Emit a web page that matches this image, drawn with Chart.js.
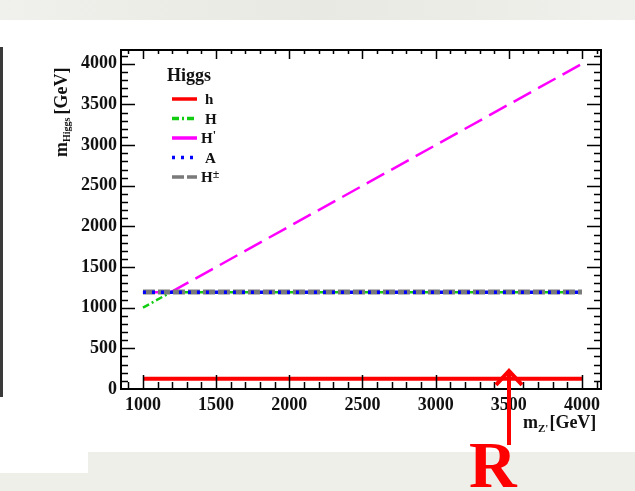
<!DOCTYPE html>
<html>
<head>
<meta charset="utf-8">
<script src="https://cdn.jsdelivr.net/npm/chart.js@4.4.1/dist/chart.umd.min.js"></script>
<style>
  html, body { margin: 0; padding: 0; background: #fff; }
  #wrap { position: relative; width: 635px; height: 491px; overflow: hidden; background: #fff; }
  .band { position: absolute; background: #efefea; }
  canvas { position: absolute; left: 0; top: 0; }
</style>
</head>
<body>
<div id="wrap">
  <div class="band" style="left:0;top:0;width:635px;height:20px;background:linear-gradient(90deg,#f0f0ec,#e9e9e3 50%,#f0f0ec)"></div>
  <div class="band" style="left:88px;top:452px;width:547px;height:39px"></div>
  <div class="band" style="left:0;top:473px;width:88px;height:18px"></div>
  <div style="position:absolute;left:0;top:47px;width:3px;height:350px;background:#3a3a3a"></div>
  <canvas id="chart" width="635" height="491"></canvas>
</div>
<script>
// m_Z' values where the Higgs masses are plotted
const mZprime = [1000, 1190, 1500, 2000, 2500, 3000, 3500, 4000];

// Higgs masses [GeV]
const mh      = [125, 125, 125, 125, 125, 125, 125, 125];
const mH      = [1000, 1190, 1190, 1190, 1190, 1190, 1190, 1190];
const mHprime = [1190, 1190, 1500, 2000, 2500, 3000, 3500, 4000];
const mA      = [1190, 1190, 1190, 1190, 1190, 1190, 1190, 1190];
const mHpm    = [1192, 1192, 1192, 1192, 1192, 1192, 1192, 1192];

const xTicks = [1000, 1500, 2000, 2500, 3000, 3500, 4000];
const yTicks = [0, 500, 1000, 1500, 2000, 2500, 3000, 3500, 4000];

const serif = "'Liberation Serif', 'DejaVu Serif', serif";

function pts(ys) {
    return mZprime.map((x, i) => ({ x: x, y: ys[i] }));
}

// order: higher is drawn first (underneath)
const datasets = [
    { label: 'h',  sup: '',  data: pts(mh),      borderColor: '#ff0000', borderWidth: 4,   borderDash: [],             order: 1 },
    { label: 'H',  sup: '',  data: pts(mH),      borderColor: '#11cc11', borderWidth: 2.5, borderDash: [7, 3, 2, 3],   order: 5 },
    { label: 'H',  sup: "'", data: pts(mHprime), borderColor: '#ff00ff', borderWidth: 2.5, borderDash: [20, 8],        order: 4 },
    { label: 'A',  sup: '',  data: pts(mA),      borderColor: '#0000ff', borderWidth: 3.5, borderDash: [3, 6],         order: 2 },
    { label: 'H',  sup: '±', data: pts(mHpm),    borderColor: '#7a7a7a', borderWidth: 5,   borderDash: [12, 3],        order: 3 }
];
datasets.forEach(d => { d.pointRadius = 0; d.fill = false; d.tension = 0; d.borderCapStyle = 'butt'; });

const rootFrame = {
    id: 'rootFrame',
    afterDatasetsDraw(chart) {
        const ctx = chart.ctx;
        const a = chart.chartArea;
        const xs = chart.scales.x, ys = chart.scales.y;
        ctx.save();
        ctx.strokeStyle = '#000';
        ctx.lineWidth = 1.5;
        ctx.beginPath();
        // x ticks, bottom and top
        for (let v = 900; v <= 4100; v += 100) {
            const px = Math.round(xs.getPixelForValue(v)) + 0.5;
            const major = v % 500 === 0;
            ctx.moveTo(px, a.bottom); ctx.lineTo(px, a.bottom - (major ? 14 : 7));
            ctx.moveTo(px, a.top); ctx.lineTo(px, a.top + (major ? 9 : 4));
        }
        // y ticks, left and right
        for (let v = 100; v <= 4100; v += 100) {
            const py = Math.round(ys.getPixelForValue(v)) + 0.5;
            const major = v % 500 === 0;
            ctx.moveTo(a.left, py); ctx.lineTo(a.left + (major ? 14 : 7), py);
            ctx.moveTo(a.right, py); ctx.lineTo(a.right - (major ? 14 : 7), py);
        }
        ctx.stroke();
        ctx.lineWidth = 2;
        ctx.strokeRect(a.left, a.top, a.right - a.left, a.bottom - a.top);
        ctx.restore();
    },
    afterDraw(chart) {
        const ctx = chart.ctx;
        const xs = chart.scales.x, ys = chart.scales.y;
        ctx.save();
        ctx.fillStyle = '#111';
        ctx.textBaseline = 'alphabetic';

        // legend
        ctx.font = 'bold 18px ' + serif;
        ctx.fillText('Higgs', 167, 81);
        let ly = 99;
        chart.data.datasets.forEach(d => {
            ctx.strokeStyle = d.borderColor;
            ctx.lineWidth = 3.5;
            ctx.setLineDash(d.label === 'H' && d.sup === "'" ? [] : d.borderDash);
            ctx.beginPath();
            ctx.moveTo(172, ly); ctx.lineTo(197, ly);
            ctx.stroke();
            ctx.setLineDash([]);
            ctx.fillStyle = '#111';
            ctx.font = 'bold 15px ' + serif;
            const lx = d.sup ? 201 : 205;
            ctx.fillText(d.label, lx, ly + 5);
            if (d.sup) {
                const w = ctx.measureText(d.label).width;
                ctx.font = 'bold 12px ' + serif;
                ctx.fillText(d.sup, lx + w, ly + 1);
            }
            ly += 19.5;
        });

        // x axis title
        let tx = 523;
        ctx.font = 'bold 18px ' + serif;
        ctx.fillText('m', tx, 428);
        tx += ctx.measureText('m').width;
        ctx.font = 'bold 11px ' + serif;
        ctx.fillText("Z'", tx, 432);
        tx += ctx.measureText("Z'").width + 1;
        ctx.font = 'bold 18px ' + serif;
        ctx.fillText('[GeV]', tx, 428);

        // y axis title (rotated)
        ctx.save();
        ctx.translate(67, 157);
        ctx.rotate(-Math.PI / 2);
        let ty = 0;
        ctx.font = 'bold 18px ' + serif;
        ctx.fillText('m', ty, 0);
        ty += ctx.measureText('m').width;
        ctx.font = 'bold 10px ' + serif;
        ctx.fillText('Higgs', ty, 3);
        ty += ctx.measureText('Higgs').width + 3;
        ctx.font = 'bold 18px ' + serif;
        ctx.fillText('[GeV]', ty, 0);
        ctx.restore();

        // red annotation arrow pointing at the h line
        const ax = Math.round(xs.getPixelForValue(3500));
        const tip = ys.getPixelForValue(mh[0]) - 8;
        ctx.strokeStyle = '#ff0000';
        ctx.lineWidth = 4;
        ctx.beginPath();
        ctx.moveTo(ax, 445); ctx.lineTo(ax, tip + 2);
        ctx.moveTo(ax - 13, tip + 14); ctx.lineTo(ax, tip); ctx.lineTo(ax + 13, tip + 14);
        ctx.stroke();
        ctx.fillStyle = '#ff0000';
        ctx.font = 'bold 66px ' + serif;
        ctx.fillText('R', 469, 487);
        ctx.restore();
    }
};

new Chart(document.getElementById('chart'), {
    type: 'line',
    data: { datasets: datasets },
    options: {
        responsive: false,
        animation: false,
        layout: { padding: { left: 64, top: 50, right: 34, bottom: 72 } },
        plugins: { legend: { display: false }, tooltip: { enabled: false } },
        scales: {
            x: {
                type: 'linear',
                min: 850, max: 4130,
                afterBuildTicks(s) { s.ticks = xTicks.map(v => ({ value: v })); },
                afterFit(s) { s.height = 30; },
                grid: { display: false, drawTicks: false },
                border: { display: false },
                ticks: { padding: 6, color: '#111', maxRotation: 0, autoSkip: false,
                         callback: v => String(v),
                         font: { family: serif, size: 18, weight: 'bold' } }
            },
            y: {
                type: 'linear',
                min: 0, max: 4170,
                afterBuildTicks(s) { s.ticks = yTicks.map(v => ({ value: v })); },
                afterFit(s) { s.width = 57; },
                grid: { display: false, drawTicks: false },
                border: { display: false },
                ticks: { padding: 4, color: '#111', autoSkip: false,
                         callback: v => String(v),
                         font: { family: serif, size: 18, weight: 'bold' } }
            }
        }
    },
    plugins: [rootFrame]
});
</script>
</body>
</html>
